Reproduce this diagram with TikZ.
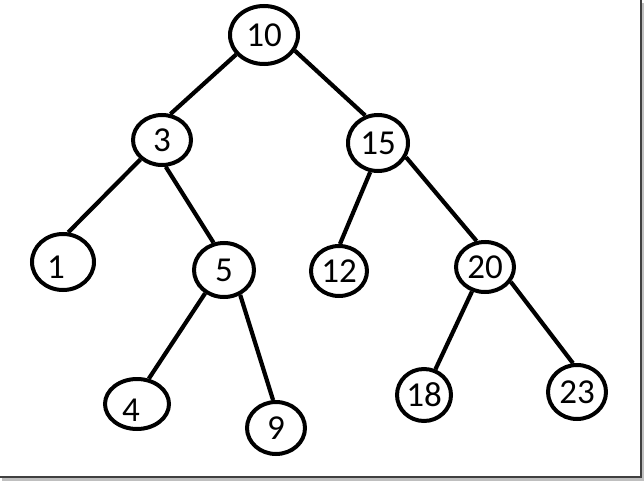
\documentclass[tikz,border=0pt]{standalone}
\usepackage{fontspec}
\setmainfont{Carlito}
\usetikzlibrary{shapes.geometric}
\begin{document}
\begin{tikzpicture}[x=1pt,y=-1pt,
  treenode/.style={draw=black,ellipse,line width=4pt,inner sep=0pt,fill=white,font=\fontsize{35}{38}\selectfont},
  numtext/.style={inner sep=0pt,font=\fontsize{35}{38}\selectfont},
  edge/.style={line width=4.2pt,draw=black}]
\useasboundingbox (0,0) rectangle (644,481);
\fill[white] (0,0) rectangle (644,481);
% shadow frame
\fill[black!25] (642,3) rectangle (644,481);
\fill[black!25] (2,478) rectangle (644,481);
\fill[black!75] (640,0) rectangle (642,478);
\fill[black!75] (0,476) rectangle (642,478);
% nodes
\node[treenode,minimum width=68,minimum height=58] (n10) at (264,35) {10};
\node[treenode,minimum width=58,minimum height=50] (n3) at (162,140) {3};
\node[treenode,minimum width=60,minimum height=56] (n15) at (378,143) {15};
\node[treenode,minimum width=62,minimum height=56] (n1) at (63,262) {};
\node[numtext] (t1) at (56,267) {1};
\node[treenode,minimum width=60,minimum height=54] (n5) at (224,270) {5};
\node[treenode,minimum width=56,minimum height=50] (n12) at (339,271) {12};
\node[treenode,minimum width=58,minimum height=50] (n20) at (485,267) {20};
\node[treenode,minimum width=64,minimum height=50] (n4) at (137,404) {};
\node[numtext] (t4) at (131,410) {4};
\node[treenode,minimum width=58,minimum height=52] (n9) at (276,428) {9};
\node[treenode,minimum width=54,minimum height=52] (n18) at (424,395) {18};
\node[treenode,minimum width=58,minimum height=54] (n23) at (577,392) {23};
% edges
\draw[edge] (n10.215) -- (n3.72);
\draw[edge] (n10.333) -- (n15.115);
\draw[edge] (n3.222) -- (n1.80);
\draw[edge] (n3.278) -- (n5.111);
\draw[edge] (n15.255) -- (n12.88);
\draw[edge] (n15.333) -- (n20.108);
\draw[edge] (n5.231) -- (n4.65);
\draw[edge] (n5.303) -- (n9.96);
\draw[edge] (n20.242) -- (n18.66);
\draw[edge] (n20.330) -- (n23.98);
\end{tikzpicture}
\end{document}
